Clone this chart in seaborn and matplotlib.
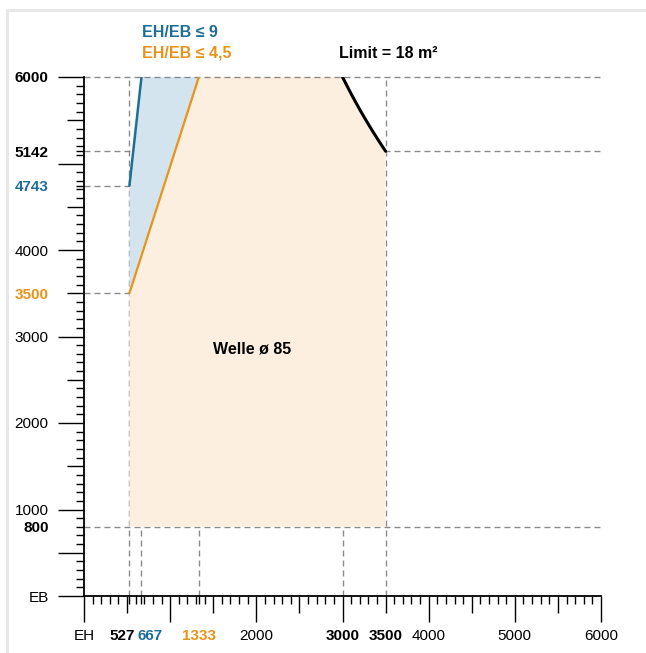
import numpy as np
import pandas as pd
import matplotlib
matplotlib.use("Agg")
import matplotlib.pyplot as plt
import matplotlib.patches as patches
import seaborn as sns

# marked values on the axes
eh_marks = [527, 667, 1333, 3000, 3500]
eb_marks = [800, 3500, 4743, 5142, 6000]

# EH/EB <= 9 line (blue)
eh_blue = [527, 667]
eb_blue = [4743, 6000]

# EH/EB <= 4,5 line (orange)
eh_orange = [527, 1333]
eb_orange = [3500, 6000]

# limit curve, 18 m2
eh_limit = [3000, 3050, 3100, 3150, 3200, 3250, 3300, 3350, 3400, 3450, 3500]
eb_limit = [6000, 5902, 5806, 5714, 5625, 5538, 5455, 5373, 5294, 5217, 5142]

eh_min, eh_max = 527, 3500
eb_min, eb_max = 800, 6000

BLUE = "#1d6e98"
ORANGE = "#e8931a"
BLUE_FILL = "#d4e4ef"
ORANGE_FILL = "#fcefdf"
GRID = "#8a8a8a"

sns.set_theme(style="white")
plt.rcParams['font.family'] = ['Liberation Sans', 'DejaVu Sans']

fig = plt.figure(figsize=(6.46, 6.53), dpi=100)
ax = fig.add_axes([84 / 646, 57 / 653, 517 / 646, 519 / 653])
ax.set_xlim(0, 6000)
ax.set_ylim(0, 6000)

# light frame around the card (only top and left edges are in view)
fig.patches.append(patches.Rectangle((7 / 646, -0.1), 1.1, 1 - 10 / 653 + 0.1,
                                     transform=fig.transFigure, fill=False,
                                     edgecolor="#e6e6e6", lw=2))

dash = (0, (4.3, 2.9))
# dashed helper lines
ax.plot([0, 6000], [eb_max, eb_max], color=GRID, lw=1, ls=dash, zorder=2.5, clip_on=False)
ax.plot([0, 6000], [eb_limit[-1], eb_limit[-1]], color=GRID, lw=1, ls=dash, zorder=1)
ax.plot([0, 6000], [eb_min, eb_min], color=GRID, lw=1, ls=dash, zorder=1)
ax.plot([0, eh_min], [eb_blue[0], eb_blue[0]], color=GRID, lw=1, ls=dash, zorder=1)
ax.plot([0, eh_min], [eb_orange[0], eb_orange[0]], color=GRID, lw=1, ls=dash, zorder=1)
ax.plot([eh_min, eh_min], [0, eb_max], color=GRID, lw=1, ls=dash, zorder=1)
ax.plot([eh_max, eh_max], [0, eb_max], color=GRID, lw=1, ls=dash, zorder=1)
for x in [eh_blue[1], eh_orange[1], eh_limit[0]]:
    ax.plot([x, x], [0, eb_min], color=GRID, lw=1, ls=dash, zorder=1)

# orange area (Welle ø 85)
poly_x = [eh_min, eh_orange[0], eh_orange[1]] + eh_limit + [eh_max]
poly_y = [eb_min, eb_orange[0], eb_orange[1]] + eb_limit + [eb_min]
ax.fill(poly_x, poly_y, color=ORANGE_FILL, lw=0, zorder=2)

# blue area between the two ratio lines
ax.fill([eh_orange[0], eh_blue[0], eh_blue[1], eh_orange[1]],
        [eb_orange[0], eb_blue[0], eb_blue[1], eb_orange[1]],
        color=BLUE_FILL, lw=0, zorder=2)

sns.lineplot(x=eh_blue, y=eb_blue, ax=ax, color=BLUE, lw=1.8, zorder=3)
sns.lineplot(x=eh_orange, y=eb_orange, ax=ax, color=ORANGE, lw=1.6, zorder=3)
sns.lineplot(x=eh_limit, y=eb_limit, ax=ax, color="black", lw=2.2, zorder=3,
             sort=False, estimator=None)

# spines
for s in ["top", "right"]:
    ax.spines[s].set_visible(False)
for s in ["left", "bottom"]:
    ax.spines[s].set_color("black")
    ax.spines[s].set_linewidth(1.3)

LONG, MED, SHORT = 18.5, 12, 5.8
FS = 11

# y axis ticks: (position, label, length, color, bold)
y_ticks = [(0, "EB", LONG, "black", False), (500, "", LONG, "black", False),
           (800, "800", SHORT, "black", True), (1000, "1000", LONG, "black", False),
           (1500, "", MED, "black", False), (2000, "2000", LONG, "black", False),
           (2500, "", MED, "black", False), (3000, "3000", LONG, "black", False),
           (3500, "3500", MED, ORANGE, True), (4000, "4000", LONG, "black", False),
           (4500, "", MED, "black", False), (4743, "4743", SHORT, BLUE, True),
           (5000, "", LONG, "black", False), (5142, "5142", SHORT, "black", True),
           (5500, "", MED, "black", False), (6000, "6000", LONG, "black", True)]

x_ticks = [(0, "EH", LONG, "black", False), (500, "", MED, "black", False),
           (527, "", SHORT, "black", False), (667, "", SHORT, "black", False),
           (1000, "", LONG, "black", False), (1333, "1333", SHORT, ORANGE, True),
           (1500, "", MED, "black", False), (2000, "2000", LONG, "black", False),
           (2500, "", MED, "black", False), (3000, "3000", LONG, "black", True),
           (3500, "3500", MED, "black", True), (4000, "4000", LONG, "black", False),
           (4500, "", MED, "black", False), (5000, "5000", LONG, "black", False),
           (5500, "", MED, "black", False), (6000, "6000", LONG, "black", False)]

ax.set_yticks([t[0] for t in y_ticks], [t[1] for t in y_ticks])
ax.set_xticks([t[0] for t in x_ticks], [t[1] for t in x_ticks])
ax.set_yticks(np.arange(0, 6001, 100), minor=True)
ax.set_xticks(np.arange(0, 6001, 100), minor=True)
ax.tick_params(axis="y", which="major", direction="out", length=LONG, width=1,
               color="black", pad=7, labelsize=FS, left=True)
ax.tick_params(axis="x", which="major", direction="out", length=LONG, width=1,
               color="black", pad=5, labelsize=FS, bottom=True)
ax.tick_params(which="minor", direction="out", length=SHORT, width=1,
               color="black", left=True, bottom=True)

for tick, t in zip(ax.yaxis.get_major_ticks(), y_ticks):
    tick.tick1line.set_markersize(t[2])
    tick.label1.set_color(t[3])
    tick.label1.set_fontweight("bold" if t[4] else "normal")
for tick, t in zip(ax.xaxis.get_major_ticks(), x_ticks):
    tick.tick1line.set_markersize(t[2])
    tick.label1.set_color(t[3])
    tick.label1.set_fontweight("bold" if t[4] else "normal")

# 527 / 667 labels nudged apart
ax.annotate("527", xy=(eh_marks[0], 0), xycoords=("data", "axes fraction"),
            xytext=(-5, -(LONG + 5)), textcoords="offset points",
            ha="center", va="top", fontsize=FS, fontweight="bold", color="black")
ax.annotate("667", xy=(eh_marks[1], 0), xycoords=("data", "axes fraction"),
            xytext=(6.5, -(LONG + 5)), textcoords="offset points",
            ha="center", va="top", fontsize=FS, fontweight="bold", color=BLUE)

# text labels
ax.text(673, 6509, "EH/EB ≤ 9", color=BLUE, fontsize=11.5, fontweight="bold",
        ha="left", va="center", clip_on=False)
ax.text(673, 6277, "EH/EB ≤ 4,5", color=ORANGE, fontsize=11.5, fontweight="bold",
        ha="left", va="center", clip_on=False)
ax.text(2959, 6277, "Limit = 18 m²", color="black", fontsize=11.5, fontweight="bold",
        ha="left", va="center", clip_on=False)
ax.text(1950, 2850, "Welle ø 85", color="black", fontsize=11.5, fontweight="bold",
        ha="center", va="center")

fig.savefig("out.png", dpi=100, facecolor="white")
